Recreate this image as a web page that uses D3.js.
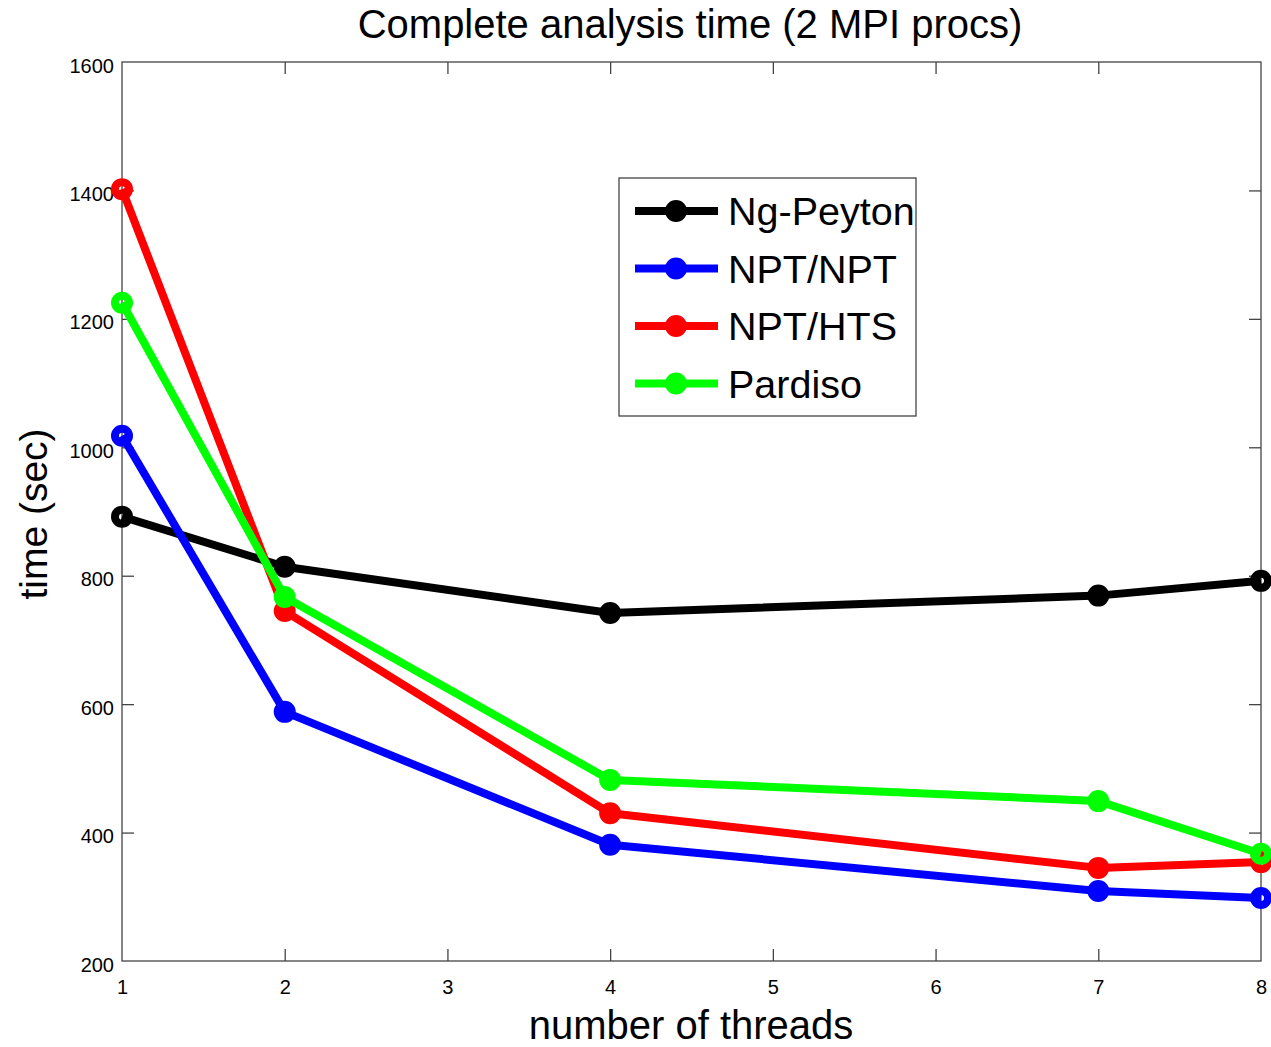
<!DOCTYPE html>
<html><head><meta charset="utf-8">
<script src="https://cdn.jsdelivr.net/npm/d3@7"></script>
<style>body{margin:0;background:#fff;} text{font-family:"Liberation Sans",Arial,sans-serif;}</style>
</head><body>
<svg id="c" width="1271" height="1047"></svg>
<script>
const threads = [1, 2, 4, 7, 8];
const seriesNames = ["Ng-Peyton", "NPT/NPT", "NPT/HTS", "Pardiso"];
const seriesColors = ["#000000", "#0000ff", "#ff0000", "#00ff00"];
const ngPeyton = [892, 814, 742, 769, 792];
const nptNpt = [1018, 588, 381, 309, 298];
const nptHts = [1402, 745, 430, 345, 354];
const pardiso = [1225, 767, 482, 449, 367];
const xTicks = [1, 2, 3, 4, 5, 6, 7, 8];
const yTicks = [200, 400, 600, 800, 1000, 1200, 1400, 1600];
const title = "Complete analysis time (2 MPI procs)";
const xLabel = "number of threads";
const yLabel = "time (sec)";

const seriesValues = [ngPeyton, nptNpt, nptHts, pardiso];
const svg = d3.select("#c");
const L = 122, R = 1261, T = 62, B = 961;
const x = d3.scaleLinear().domain([1, 8]).range([L, R]);
const y = d3.scaleLinear().domain([200, 1600]).range([B, T]);
const axisColor = "#444";

// box
svg.append("rect").attr("x", L).attr("y", T).attr("width", R - L).attr("height", B - T)
  .attr("fill", "none").attr("stroke", axisColor).attr("stroke-width", 1.3);

// axes (inward ticks)
const gx = svg.append("g").attr("transform", `translate(0,${B})`)
  .call(d3.axisBottom(x).tickValues(xTicks).tickFormat(d3.format("d")).tickSize(-12).tickPadding(19));
const gxt = svg.append("g").attr("transform", `translate(0,${T})`)
  .call(d3.axisTop(x).tickValues(xTicks).tickFormat("").tickSize(-12));
const gy = svg.append("g").attr("transform", `translate(${L},0)`)
  .call(d3.axisLeft(y).tickValues(yTicks).tickFormat(d3.format("d")).tickSize(-12).tickPadding(8));
const gyr = svg.append("g").attr("transform", `translate(${R},0)`)
  .call(d3.axisRight(y).tickValues(yTicks).tickFormat("").tickSize(-12));
[gx, gxt, gy, gyr].forEach(g => {
  g.select(".domain").remove();
  g.selectAll(".tick line").attr("stroke", axisColor).attr("stroke-width", 1.3);
  g.selectAll(".tick text").attr("font-size", 20).attr("fill", "#000")
    .style("font-family", "'Liberation Sans',Arial,sans-serif");
});
[gx, gxt].forEach(g => g.selectAll(".tick line").filter(d => d === 1 || d === 8).remove());
[gy, gyr].forEach(g => g.selectAll(".tick line").filter(d => d === 200 || d === 1600).remove());
gy.selectAll(".tick text").attr("dy", "0.5em");

// lines
const line = d3.line().x((d, i) => x(threads[i])).y(d => y(d));
seriesValues.forEach((vals, k) => {
  svg.append("path").datum(vals).attr("d", line).attr("fill", "none")
    .attr("stroke", seriesColors[k]).attr("stroke-width", 8).attr("stroke-linejoin", "round");
  svg.selectAll(null).data(vals).enter().append("circle")
    .attr("cx", (d, i) => x(threads[i])).attr("cy", d => y(d)).attr("r", 7)
    .attr("fill", "none").attr("stroke", seriesColors[k]).attr("stroke-width", 8);
});

// title & labels
svg.append("text").attr("x", 690).attr("y", 38).attr("text-anchor", "middle")
  .attr("font-size", 40).text(title);
svg.append("text").attr("x", 691).attr("y", 1039).attr("text-anchor", "middle")
  .attr("font-size", 40).text(xLabel);
svg.append("text").attr("transform", "translate(47,514) rotate(-90)").attr("text-anchor", "middle")
  .attr("font-size", 39).text(yLabel);

// legend
const lg = svg.append("g");
lg.append("rect").attr("x", 619).attr("y", 178).attr("width", 297).attr("height", 238)
  .attr("fill", "#fff").attr("stroke", axisColor).attr("stroke-width", 1.3);
seriesNames.forEach((n, k) => {
  const yy = 211 + k * 57.5;
  lg.append("line").attr("x1", 635).attr("x2", 718).attr("y1", yy).attr("y2", yy)
    .attr("stroke", seriesColors[k]).attr("stroke-width", 8);
  lg.append("circle").attr("cx", 676).attr("cy", yy).attr("r", 7)
    .attr("fill", "none").attr("stroke", seriesColors[k]).attr("stroke-width", 8);
  lg.append("text").attr("x", 728).attr("y", yy + 14).attr("font-size", 39.5).text(n);
});
</script>
</body></html>
